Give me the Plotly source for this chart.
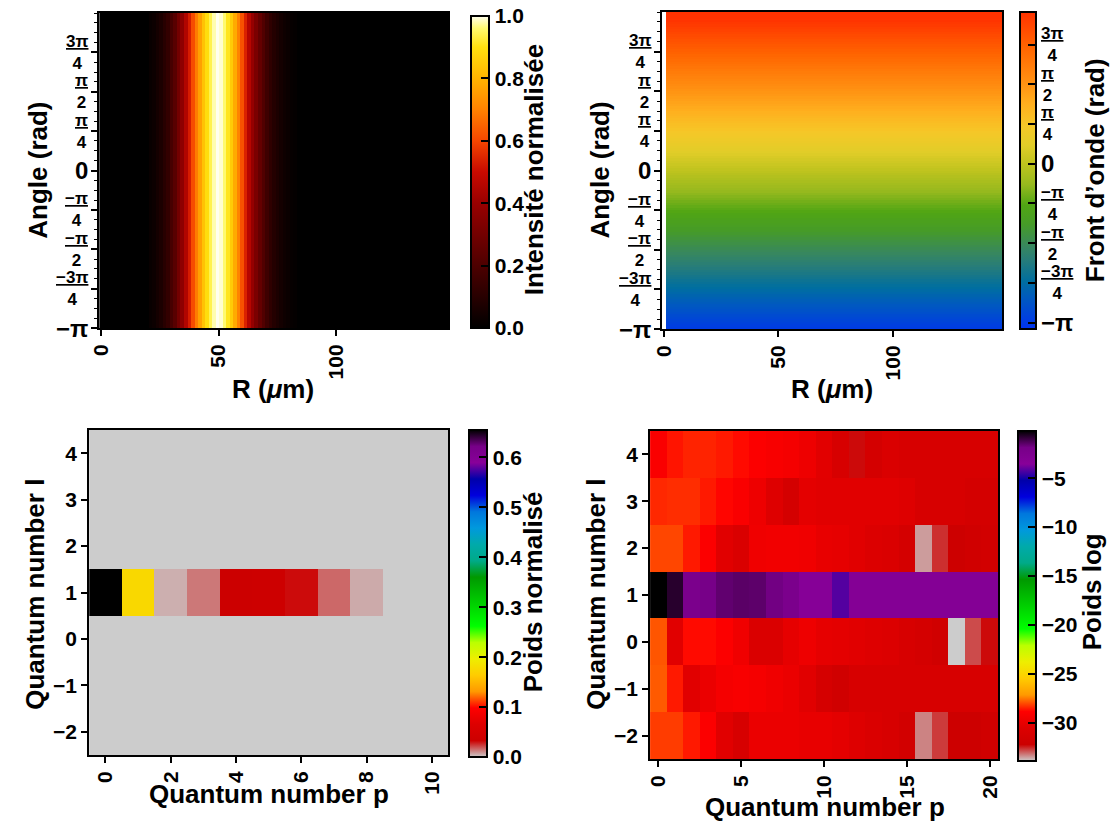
import numpy as np
import plotly.graph_objects as go

W, H = 1117, 825
FONT = "Liberation Sans"
PI = np.pi

# ---------------- data ----------------
# radial samples (um) and normalised ring intensity
r_um = np.arange(0, 148.5, 1.5)
intensity = [0.0, 0.0, 0.0, 0.0, 0.0, 0.0, 0.0, 0.0, 0.0, 0.0, 0.0, 0.0, 0.0, 0.0,
             0.02, 0.03, 0.05, 0.07, 0.10, 0.13, 0.18, 0.23, 0.30, 0.37, 0.45, 0.53,
             0.61, 0.69, 0.76, 0.83, 0.89, 0.94, 0.98, 1.00, 0.99, 0.96, 0.91, 0.85,
             0.78, 0.70, 0.62, 0.54, 0.46, 0.39, 0.32, 0.26, 0.21, 0.16, 0.12, 0.09,
             0.07, 0.05, 0.035, 0.025, 0.015, 0.01,
             0.0, 0.0, 0.0, 0.0, 0.0, 0.0, 0.0, 0.0, 0.0, 0.0, 0.0, 0.0, 0.0, 0.0,
             0.0, 0.0, 0.0, 0.0, 0.0, 0.0, 0.0, 0.0, 0.0, 0.0, 0.0, 0.0, 0.0, 0.0,
             0.0, 0.0, 0.0, 0.0, 0.0, 0.0, 0.0, 0.0, 0.0, 0.0, 0.0, 0.0, 0.0, 0.0, 0.0]

# angle grid (rad); wavefront phase of the l=1 mode equals the angle
angle_edges = np.linspace(-PI, PI, 129)
angle_centers = 0.5 * (angle_edges[1:] + angle_edges[:-1])
phase_min, phase_max = -3.27, 3.0

# mode decomposition
p_small = list(range(11))
p_large = list(range(21))
l_vals = [-2, -1, 0, 1, 2, 3, 4]
weight_l1 = [0.655, 0.175, 0.0047, 0.0135, 0.033, 0.035, 0.031, 0.016, 0.0055, 0.0, 0.0]

log_lm2 = [-28.18, -28.18, -28.57, -28.99, -30.33, -31.12, -29.83, -29.83, -29.83, -29.98, -29.98,
           -30.18, -30.48, -30.82, -31.12, -31.62, -33.3, -32.7, -32.12, -32.12, -31.82]
log_lm1 = [-27.85, -28.57, -30.33, -29.83, -29.34, -29.19, -29.34, -29.59, -29.83, -30.33, -31.3,
           -31.82, -31.12, -31.12, -31.12, -31.12, -31.12, -31.12, -31.12, -31.12, -31.12]
log_l0 = [-27.90, -30.33, -28.73, -28.73, -28.99, -29.59, -30.82, -30.82, -30.08, -29.69, -30.08,
          -30.18, -30.33, -30.48, -30.63, -31.12, -31.42, -31.82, -33.9, -32.83, -32.3]
log_l1 = [-0.18, -0.74, -2.3, -1.87, -1.55, -1.45, -1.5, -1.8, -2.26, -3.4, -3.4,
          -4.2, -3.2, -3.2, -3.2, -3.2, -3.2, -3.2, -3.2, -3.2, -3.2]
log_l2 = [-28.07, -28.07, -28.57, -28.99, -30.33, -30.82, -29.59, -29.49, -29.49, -29.59, -29.98,
          -30.08, -30.33, -30.63, -30.82, -31.42, -33.5, -32.6, -32.12, -31.82, -31.62]
log_l3 = [-28.40, -28.35, -28.35, -28.57, -28.79, -29.09, -29.69, -30.48, -31.42, -30.18, -30.33,
          -30.33, -30.33, -30.33, -30.33, -30.48, -31.12, -31.12, -31.12, -31.42, -31.42]
log_l4 = [-29.09, -28.62, -28.46, -28.46, -28.57, -28.73, -28.99, -29.19, -29.34, -29.69, -30.3,
          -31.12, -32.3, -31.42, -30.82, -31.12, -31.12, -31.12, -31.12, -31.12, -31.12]
log_min, log_max = -33.9, -0.18
weight_max = 0.655

# ---------------- colour scales ----------------
heat_scale = [[0.0, 'rgb(0,0,0)'], [0.1, 'rgb(40,0,0)'], [0.2, 'rgb(77,0,0)'],
              [0.3, 'rgb(115,0,0)'], [0.4, 'rgb(153,0,0)'], [0.5, 'rgb(200,10,0)'],
              [0.6, 'rgb(245,70,0)'], [0.7, 'rgb(255,130,0)'], [0.8, 'rgb(255,180,0)'],
              [0.9, 'rgb(255,225,15)'], [0.96, 'rgb(255,250,110)'], [1.0, 'rgb(255,255,240)']]
phase_scale = [[0.0, 'rgb(0,50,240)'], [0.1, 'rgb(0,90,190)'], [0.15, 'rgb(0,110,160)'],
               [0.22, 'rgb(40,125,120)'], [0.26, 'rgb(55,135,95)'], [0.33, 'rgb(70,155,40)'],
               [0.39, 'rgb(80,165,20)'], [0.455, 'rgb(150,185,30)'], [0.52, 'rgb(190,195,30)'],
               [0.58, 'rgb(225,205,40)'], [0.64, 'rgb(245,200,40)'], [0.71, 'rgb(255,175,30)'],
               [0.765, 'rgb(255,150,20)'], [0.89, 'rgb(255,100,0)'], [1.0, 'rgb(255,50,0)']]
spec_r = [(204, 204, 204), (204, 0, 0), (221, 0, 0), (255, 0, 0), (255, 153, 0), (255, 204, 0),
          (238, 238, 0), (187, 255, 0), (0, 255, 0), (0, 221, 0), (0, 187, 0), (0, 153, 0),
          (0, 170, 136), (0, 170, 170), (0, 153, 221), (0, 119, 221), (0, 0, 221), (0, 0, 170),
          (136, 0, 153), (119, 0, 136), (0, 0, 0)]
spec_scale = [[i / 20, 'rgb(%d,%d,%d)' % c] for i, c in enumerate(spec_r)]

# ---------------- geometry (pixels) ----------------
def px(x):
    return x / W

def py(y):
    return 1 - y / H

TL = dict(x0=90, x1=443, y0=13, y1=328)
TR = dict(x0=659, x1=1003, y0=12, y1=329)
BL = dict(x0=80, x1=443, y0=430, y1=755)
BR = dict(x0=647, x1=999, y0=431, y1=759)

tick_font = dict(family=FONT, size=21, color='black', weight='bold')
title_font = dict(family=FONT, size=26, color='black', weight='bold')


def axis(box, horiz, rng, **kw):
    d = dict(showline=True, mirror=True, linecolor='black', linewidth=2,
             ticks='outside', ticklen=6, tickwidth=1.5, tickcolor='black',
             showgrid=False, zeroline=False, tickfont=tick_font, range=rng)
    if horiz:
        d['domain'] = [px(box['x0']), px(box['x1'])]
        d['tickangle'] = -90
    else:
        d['domain'] = [py(box['y1']), py(box['y0'])]
    d.update(kw)
    return d


def cbar(x0, y0, y1, thick, **kw):
    d = dict(x=px(x0), xanchor='left', xpad=0, ypad=0, y=py(y0), yanchor='top',
             len=(y1 - y0) / H, lenmode='fraction', thickness=thick, thicknessmode='pixels',
             outlinewidth=2, outlinecolor='black', ticks='inside', ticklen=9,
             tickwidth=2, tickcolor='black', tickfont=tick_font)
    d.update(kw)
    return d


fig = go.Figure()

# top-left: intensity
fig.add_trace(go.Heatmap(
    x=r_um, y=[-PI, PI], z=[intensity], colorscale=heat_scale, zmin=0, zmax=1,
    xaxis='x', yaxis='y', hoverinfo='skip',
    colorbar=cbar(466, 16, 328, 18, tickvals=[0, 0.2, 0.4, 0.6, 0.8, 1.0], tickformat='.1f')))

# top-right: wavefront
phase_z = []
for a in angle_centers:
    row = [a] * len(r_um)
    row[0] = None
    phase_z.append(row)
quarter = [k * PI / 4 for k in range(-4, 4)]
fig.add_trace(go.Heatmap(
    x=r_um, y=angle_edges, z=phase_z, colorscale=phase_scale, zmin=phase_min, zmax=phase_max,
    xaxis='x2', yaxis='y2', hoverinfo='skip',
    colorbar=cbar(1021, 12, 329, 16, tickvals=quarter, ticktext=[''] * 8)))

# bottom-left: linear weights
lin_z = [[0.0] * 11 for _ in l_vals]
lin_z[l_vals.index(1)] = weight_l1
fig.add_trace(go.Heatmap(
    x=p_small, y=l_vals, z=lin_z, colorscale=spec_scale, zmin=0, zmax=weight_max,
    xaxis='x3', yaxis='y3', hoverinfo='skip',
    colorbar=cbar(464, 430, 757, 18, tickvals=[0, 0.1, 0.2, 0.3, 0.4, 0.5, 0.6], tickformat='.1f')))

# bottom-right: log weights
log_z = [log_lm2, log_lm1, log_l0, log_l1, log_l2, log_l3, log_l4]
fig.add_trace(go.Heatmap(
    x=p_large, y=l_vals, z=log_z, colorscale=spec_scale, zmin=log_min, zmax=log_max,
    xaxis='x4', yaxis='y4', hoverinfo='skip',
    colorbar=cbar(1019, 431, 761, 18, tickvals=[-30, -25, -20, -15, -10, -5])))

minor_ang = dict(ticks='outside', ticklen=3, tickwidth=1, tickcolor='black',
                 tickmode='linear', tick0=-PI, dtick=PI / 16)
fig.update_layout(
    width=W, height=H, margin=dict(l=0, r=0, t=0, b=0),
    paper_bgcolor='white', plot_bgcolor='white', showlegend=False,
    xaxis=axis(TL, True, [-0.9, 147.75], anchor='y', tickvals=[0, 50, 100]),
    yaxis=axis(TL, False, [-PI, PI], anchor='x', tickvals=quarter, ticktext=[''] * 8,
               minor=minor_ang),
    xaxis2=axis(TR, True, [-0.9, 147.75], anchor='y2', tickvals=[0, 50, 100]),
    yaxis2=axis(TR, False, [-PI, PI], anchor='x2', tickvals=quarter, ticktext=[''] * 8,
                minor=minor_ang),
    xaxis3=axis(BL, True, [-0.5, 10.5], anchor='y3', tickvals=[0, 2, 4, 6, 8, 10]),
    yaxis3=axis(BL, False, [-2.5, 4.5], anchor='x3', tickvals=l_vals),
    xaxis4=axis(BR, True, [-0.5, 20.5], anchor='y4', tickvals=[0, 5, 10, 15, 20]),
    yaxis4=axis(BR, False, [-2.5, 4.5], anchor='x4', tickvals=l_vals),
)

# ---------------- text ----------------
ann = []
shapes = []


def frac(num, den):
    return '<u>%s</u><br>%s' % (num, den)


pi_labels = ['−π', frac('−3π', '4'), frac('−π', '2'), frac('−π', '4'), '0',
             frac('π', '4'), frac('π', '2'), frac('3π', '4')]


def label_font(lbl):
    big = lbl in ('0', '−π')
    return dict(family=FONT, size=24 if big else 17, color='black', weight='bold')


# y tick labels of the angle axes
for box, yref in ((TL, 'y'), (TR, 'y2')):
    for v, lbl in zip(quarter, pi_labels):
        ann.append(dict(x=px(box['x0'] - 9), y=v, xref='paper', yref=yref, text=lbl,
                        xanchor='right', yanchor='middle', align='center', showarrow=False,
                        font=label_font(lbl)))

# colour bar labels of the wavefront
cb_y0, cb_y1 = 329, 12
for v, lbl in zip(quarter, pi_labels):
    ypix = cb_y0 - (v - phase_min) / (phase_max - phase_min) * (cb_y0 - cb_y1)
    ann.append(dict(x=px(1040), y=py(ypix), xref='paper', yref='paper', text=lbl,
                    xanchor='left', yanchor='middle', align='center', showarrow=False,
                    font=label_font(lbl)))
for k in range(-7, 8, 2):
    v = k * PI / 8
    if phase_min < v < phase_max:
        ypix = cb_y0 - (v - phase_min) / (phase_max - phase_min) * (cb_y0 - cb_y1)
        shapes.append(dict(type='line', xref='paper', yref='paper', x0=px(1031), x1=px(1037),
                           y0=py(ypix), y1=py(ypix), line=dict(color='black', width=1.5)))

titles = [
    ('Angle (rad)', 28, 170, -90), ('R (<i>μ</i>m)', 266, 389, 0),
    ('Intensité normalisée', 530, 170, -90),
    ('Angle (rad)', 596, 170, -90), ('R (<i>μ</i>m)', 831, 389, 0),
    ('Front d’onde (rad)', 1097, 170, -90),
    ('Quantum number l', 25, 594, -90), ('Quantum number p', 262, 794, 0),
    ('Poids normalisé', 529, 592, -90),
    ('Quantum number l', 592, 594, -90), ('Quantum number p', 824, 807, 0),
    ('Poids log', 1094, 592, -90),
]
for txt, x, y, ang in titles:
    ann.append(dict(x=px(x), y=py(y), xref='paper', yref='paper', text=txt, textangle=ang,
                    xanchor='center', yanchor='middle', showarrow=False, font=title_font))

fig.update_layout(annotations=ann, shapes=shapes)
fig.write_html("out.html", config={'displayModeBar': False},
               post_script="document.body.style.margin='0';document.body.style.overflow='hidden';")
